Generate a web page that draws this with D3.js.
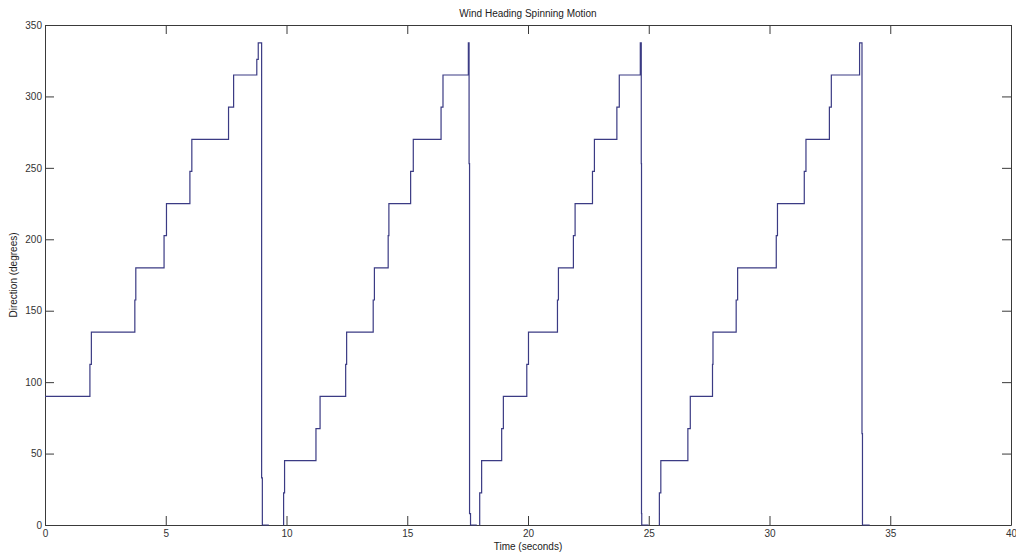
<!DOCTYPE html>
<html>
<head>
<meta charset="utf-8">
<script src="https://cdn.jsdelivr.net/npm/d3@7"></script>
<style>
  body { margin: 0; background: #fff; }
  svg { display: block; font-family: "Liberation Sans", Arial, sans-serif; }
</style>
</head>
<body>
<div id="chart"></div>
<script>
// Heading samples: each value holds from its time until the next one (null = no data)
const timeSec = [
  0, 1.86, 1.92, 3.72, 3.76, 4.93, 5.03, 6.00, 6.08, 7.60, 7.81, 8.77, 8.83, 8.97, 9.00, 9.27, 9.28,
  9.87, 9.88, 9.92, 11.22, 11.39, 12.45, 12.49, 13.59, 13.64, 14.21, 14.24, 15.14, 15.25, 16.40, 16.48, 17.53, 17.56, 17.58, 17.62, 17.88, 17.89,
  17.99, 18.00, 18.08, 18.91, 18.98, 19.95, 20.02, 21.22, 21.26, 21.88, 21.95, 22.67, 22.75, 23.68, 23.78, 24.65, 24.69, 24.70, 24.71, 24.99, 25.00,
  25.43, 25.44, 25.50, 26.62, 26.72, 27.64, 27.66, 28.62, 28.68, 30.28, 30.33, 31.44, 31.51, 32.48, 32.56, 33.73, 33.83, 33.85, 34.15
];
const headingDeg = [
  90, 112.5, 135, 157.5, 180, 202.5, 225, 247.5, 270, 292.5, 315, 326, 337.5, 33, 0, 0, null,
  0, 22.5, 45, 67.5, 90, 112.5, 135, 157.5, 180, 202.5, 225, 247.5, 270, 292.5, 315, 337.5, 253, 8, 0, 0, null,
  0, 22.5, 45, 67.5, 90, 112.5, 135, 157.5, 180, 202.5, 225, 247.5, 270, 292.5, 315, 337.5, 253, 8, 0, 0, null,
  0, 22.5, 45, 67.5, 90, 112.5, 135, 157.5, 180, 202.5, 225, 247.5, 270, 292.5, 315, 337.5, 64, 0, 0
];
const xTicks = [0, 5, 10, 15, 20, 25, 30, 35, 40];
const yTicks = [0, 50, 100, 150, 200, 250, 300, 350];

const W = 1016, H = 554;
const margin = {top: 25, right: 5, bottom: 29, left: 45};

const svg = d3.select('#chart').append('svg')
    .attr('width', W)
    .attr('height', H);

const x = d3.scaleLinear().domain([0, 40]).range([margin.left, W - margin.right]);
const y = d3.scaleLinear().domain([0, 350]).range([H - margin.bottom, margin.top]);

const axisColor = '#3a3a3a';

// bottom axis with labels, inward ticks
const gx = svg.append('g')
    .attr('transform', `translate(0,${H - margin.bottom})`)
    .call(d3.axisBottom(x).tickValues(xTicks).tickSize(-9).tickSizeOuter(0).tickPadding(5));
// left axis
const gy = svg.append('g')
    .attr('transform', `translate(${margin.left},0)`)
    .call(d3.axisLeft(y).tickValues(yTicks).tickSize(-9).tickSizeOuter(0).tickPadding(3));
// top and right (box)
const gt = svg.append('g')
    .attr('transform', `translate(0,${margin.top})`)
    .call(d3.axisTop(x).tickValues(xTicks).tickSize(-9).tickSizeOuter(0).tickFormat(''));
const gr = svg.append('g')
    .attr('transform', `translate(${W - margin.right},0)`)
    .call(d3.axisRight(y).tickValues(yTicks).tickSize(-9).tickSizeOuter(0).tickFormat(''));

[gx, gy, gt, gr].forEach(g => {
    g.selectAll('path, line').attr('stroke', axisColor);
    g.selectAll('text').attr('fill', '#333').style('font-size', '10px').style('font-family', '"Liberation Sans", Arial, sans-serif');
});

// data line
const pts = timeSec.map((t, i) => ({t: t, v: headingDeg[i]}));
const line = d3.line()
    .defined(d => d.v !== null)
    .x(d => x(d.t))
    .y(d => y(d.v))
    .curve(d3.curveStepAfter);

svg.append('path')
    .datum(pts)
    .attr('fill', 'none')
    .attr('stroke', '#3b3b84')
    .attr('stroke-width', 1.2)
    .attr('d', line);

// titles
svg.append('text')
    .attr('x', (margin.left + W - margin.right) / 2)
    .attr('y', 17)
    .attr('text-anchor', 'middle')
    .attr('fill', '#222')
    .style('font-size', '10px')
    .text('Wind Heading Spinning Motion');

svg.append('text')
    .attr('x', (margin.left + W - margin.right) / 2)
    .attr('y', 550)
    .attr('text-anchor', 'middle')
    .attr('fill', '#222')
    .style('font-size', '10px')
    .text('Time (seconds)');

svg.append('text')
    .attr('transform', `translate(17,${(margin.top + H - margin.bottom) / 2}) rotate(-90)`)
    .attr('text-anchor', 'middle')
    .attr('fill', '#222')
    .style('font-size', '10px')
    .text('Direction (degrees)');
</script>
</body>
</html>
